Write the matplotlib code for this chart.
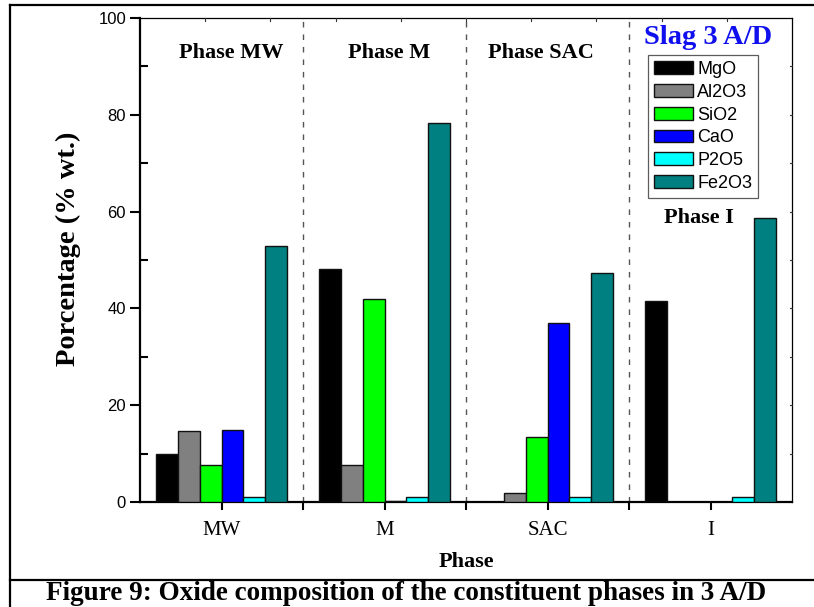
import numpy as np
import matplotlib
matplotlib.use("Agg")
import matplotlib.pyplot as plt
from matplotlib.patches import Patch
from matplotlib.lines import Line2D

# Oxide composition (% wt.) of each constituent phase
phases = ["MW", "M", "SAC", "I"]
oxides = ["MgO", "Al2O3", "SiO2", "CaO", "P2O5", "Fe2O3"]
mgo = [9.9, 48.1, 0.0, 41.5]
al2o3 = [14.7, 7.7, 1.8, 0.0]
sio2 = [7.6, 41.9, 13.5, 0.0]
cao = [14.9, 0.3, 36.9, 0.0]
p2o5 = [1.0, 1.0, 1.0, 1.0]
fe2o3 = [52.9, 78.4, 47.4, 58.6]
series = [mgo, al2o3, sio2, cao, p2o5, fe2o3]
colors = ["#000000", "#808080", "#00FF00", "#0000FF", "#00FFFF", "#008080"]

phase_titles = ["Phase MW", "Phase M", "Phase SAC", "Phase I"]
yticks = [0, 20, 40, 60, 80, 100]

SERIF = "Liberation Serif"
SANS = "Liberation Sans"

W, H = 814, 607
fig = plt.figure(figsize=(W / 100, H / 100), dpi=100)
fig.patch.set_facecolor("white")

ax = fig.add_axes([140 / W, 1 - 502 / H, (792 - 140) / W, (502 - 18) / H])

x = np.arange(len(phases))
group_w = 0.8
bw = group_w / len(series)
for i, (vals, c) in enumerate(zip(series, colors)):
    offs = -group_w / 2 + bw * (i + 0.5)
    ax.bar(x + offs, vals, width=bw, color=c, edgecolor="#111111",
           linewidth=1.0, zorder=3)

ax.set_xlim(-0.5, len(phases) - 0.5)
ax.set_ylim(0, 100)

# dashed separators between phases
for sep in x[:-1] + 0.5:
    ax.axvline(sep, color="#555555", linestyle=(0, (4, 5)), linewidth=1.0,
               zorder=1)

# ticks
ax.set_xticks(x)
ax.set_xticklabels(phases, fontfamily=SERIF, fontsize=15)
ax.set_xticks(x[:-1] + 0.5, minor=True)
ax.tick_params(axis="x", which="both", direction="out", length=6, width=1.5,
               top=False, pad=8)
ax.set_yticks(yticks)
ax.set_yticklabels([str(v) for v in yticks], fontfamily=SANS, fontsize=12)
ax.set_yticks(np.arange(10, 100, 20), minor=True)
ax.tick_params(axis="y", which="major", direction="out", length=7, width=1.5,
               right=False, pad=3)
ax.tick_params(axis="y", which="minor", direction="in", length=6, width=1.5,
               right=False)

for s in ["left", "bottom"]:
    ax.spines[s].set_linewidth(1.6)
for s in ["top", "right"]:
    ax.spines[s].set_linewidth(0.9)

# small inward ticks along the top and right frame
for xt in np.linspace(-0.5, len(phases) - 0.5, 11)[1:-1]:
    ax.plot([xt, xt], [100, 99.3], color="#333333", lw=0.8, zorder=4,
            clip_on=False)
for yt in np.arange(10, 100, 10):
    ax.plot([3.5, 3.485], [yt, yt], color="#333333", lw=0.8, zorder=4,
            clip_on=False)

ax.set_xlabel("Phase", fontfamily=SERIF, fontweight="bold", fontsize=16,
              labelpad=8)
fig.text(68 / W, 1 - 249 / H, "Porcentage (% wt.)", rotation=90,
         ha="center", va="center", fontfamily=SERIF, fontweight="bold",
         fontsize=20.5)

# phase titles
title_pos = [(231, 53), (389, 53), (541, 53), (699, 218)]
for t, (px, py) in zip(phase_titles, title_pos):
    fig.text(px / W, 1 - py / H, t, ha="center", va="center",
             fontfamily=SERIF, fontweight="bold", fontsize=16)

fig.text(708 / W, 1 - 37 / H, "Slag 3 A/D", ha="center", va="center",
         fontfamily=SERIF, fontweight="bold", fontsize=20.5, color="#1010EE")

handles = [Patch(facecolor=c, edgecolor="#111111", linewidth=1.0)
           for c in colors]
leg = ax.legend(handles, oxides, loc="upper left",
                bbox_to_anchor=((648 - 140) / 652, (502 - 55) / 484),
                borderaxespad=0, frameon=True, fancybox=False,
                prop={"family": SANS, "size": 13},
                handlelength=2.15, handleheight=0.72, handletextpad=0.25,
                labelspacing=0.32, borderpad=0.33)
leg.get_frame().set_edgecolor("#333333")
leg.get_frame().set_linewidth(0.9)

# outer frame and caption
fig.add_artist(Line2D([10 / W, 10 / W], [0, 1 - 5 / H], transform=fig.transFigure,
                      color="black", lw=1.6))
fig.add_artist(Line2D([10 / W, 1], [1 - 5 / H, 1 - 5 / H], transform=fig.transFigure,
                      color="black", lw=1.6))
fig.add_artist(Line2D([10 / W, 1], [1 - 580 / H, 1 - 580 / H],
                      transform=fig.transFigure, color="black", lw=1.6))
fig.text(406 / W, 1 - 593 / H,
         "Figure 9: Oxide composition of the constituent phases in 3 A/D",
         ha="center", va="center", fontfamily=SERIF, fontweight="bold",
         fontsize=19.5)

fig.savefig("out.png", dpi=100)
